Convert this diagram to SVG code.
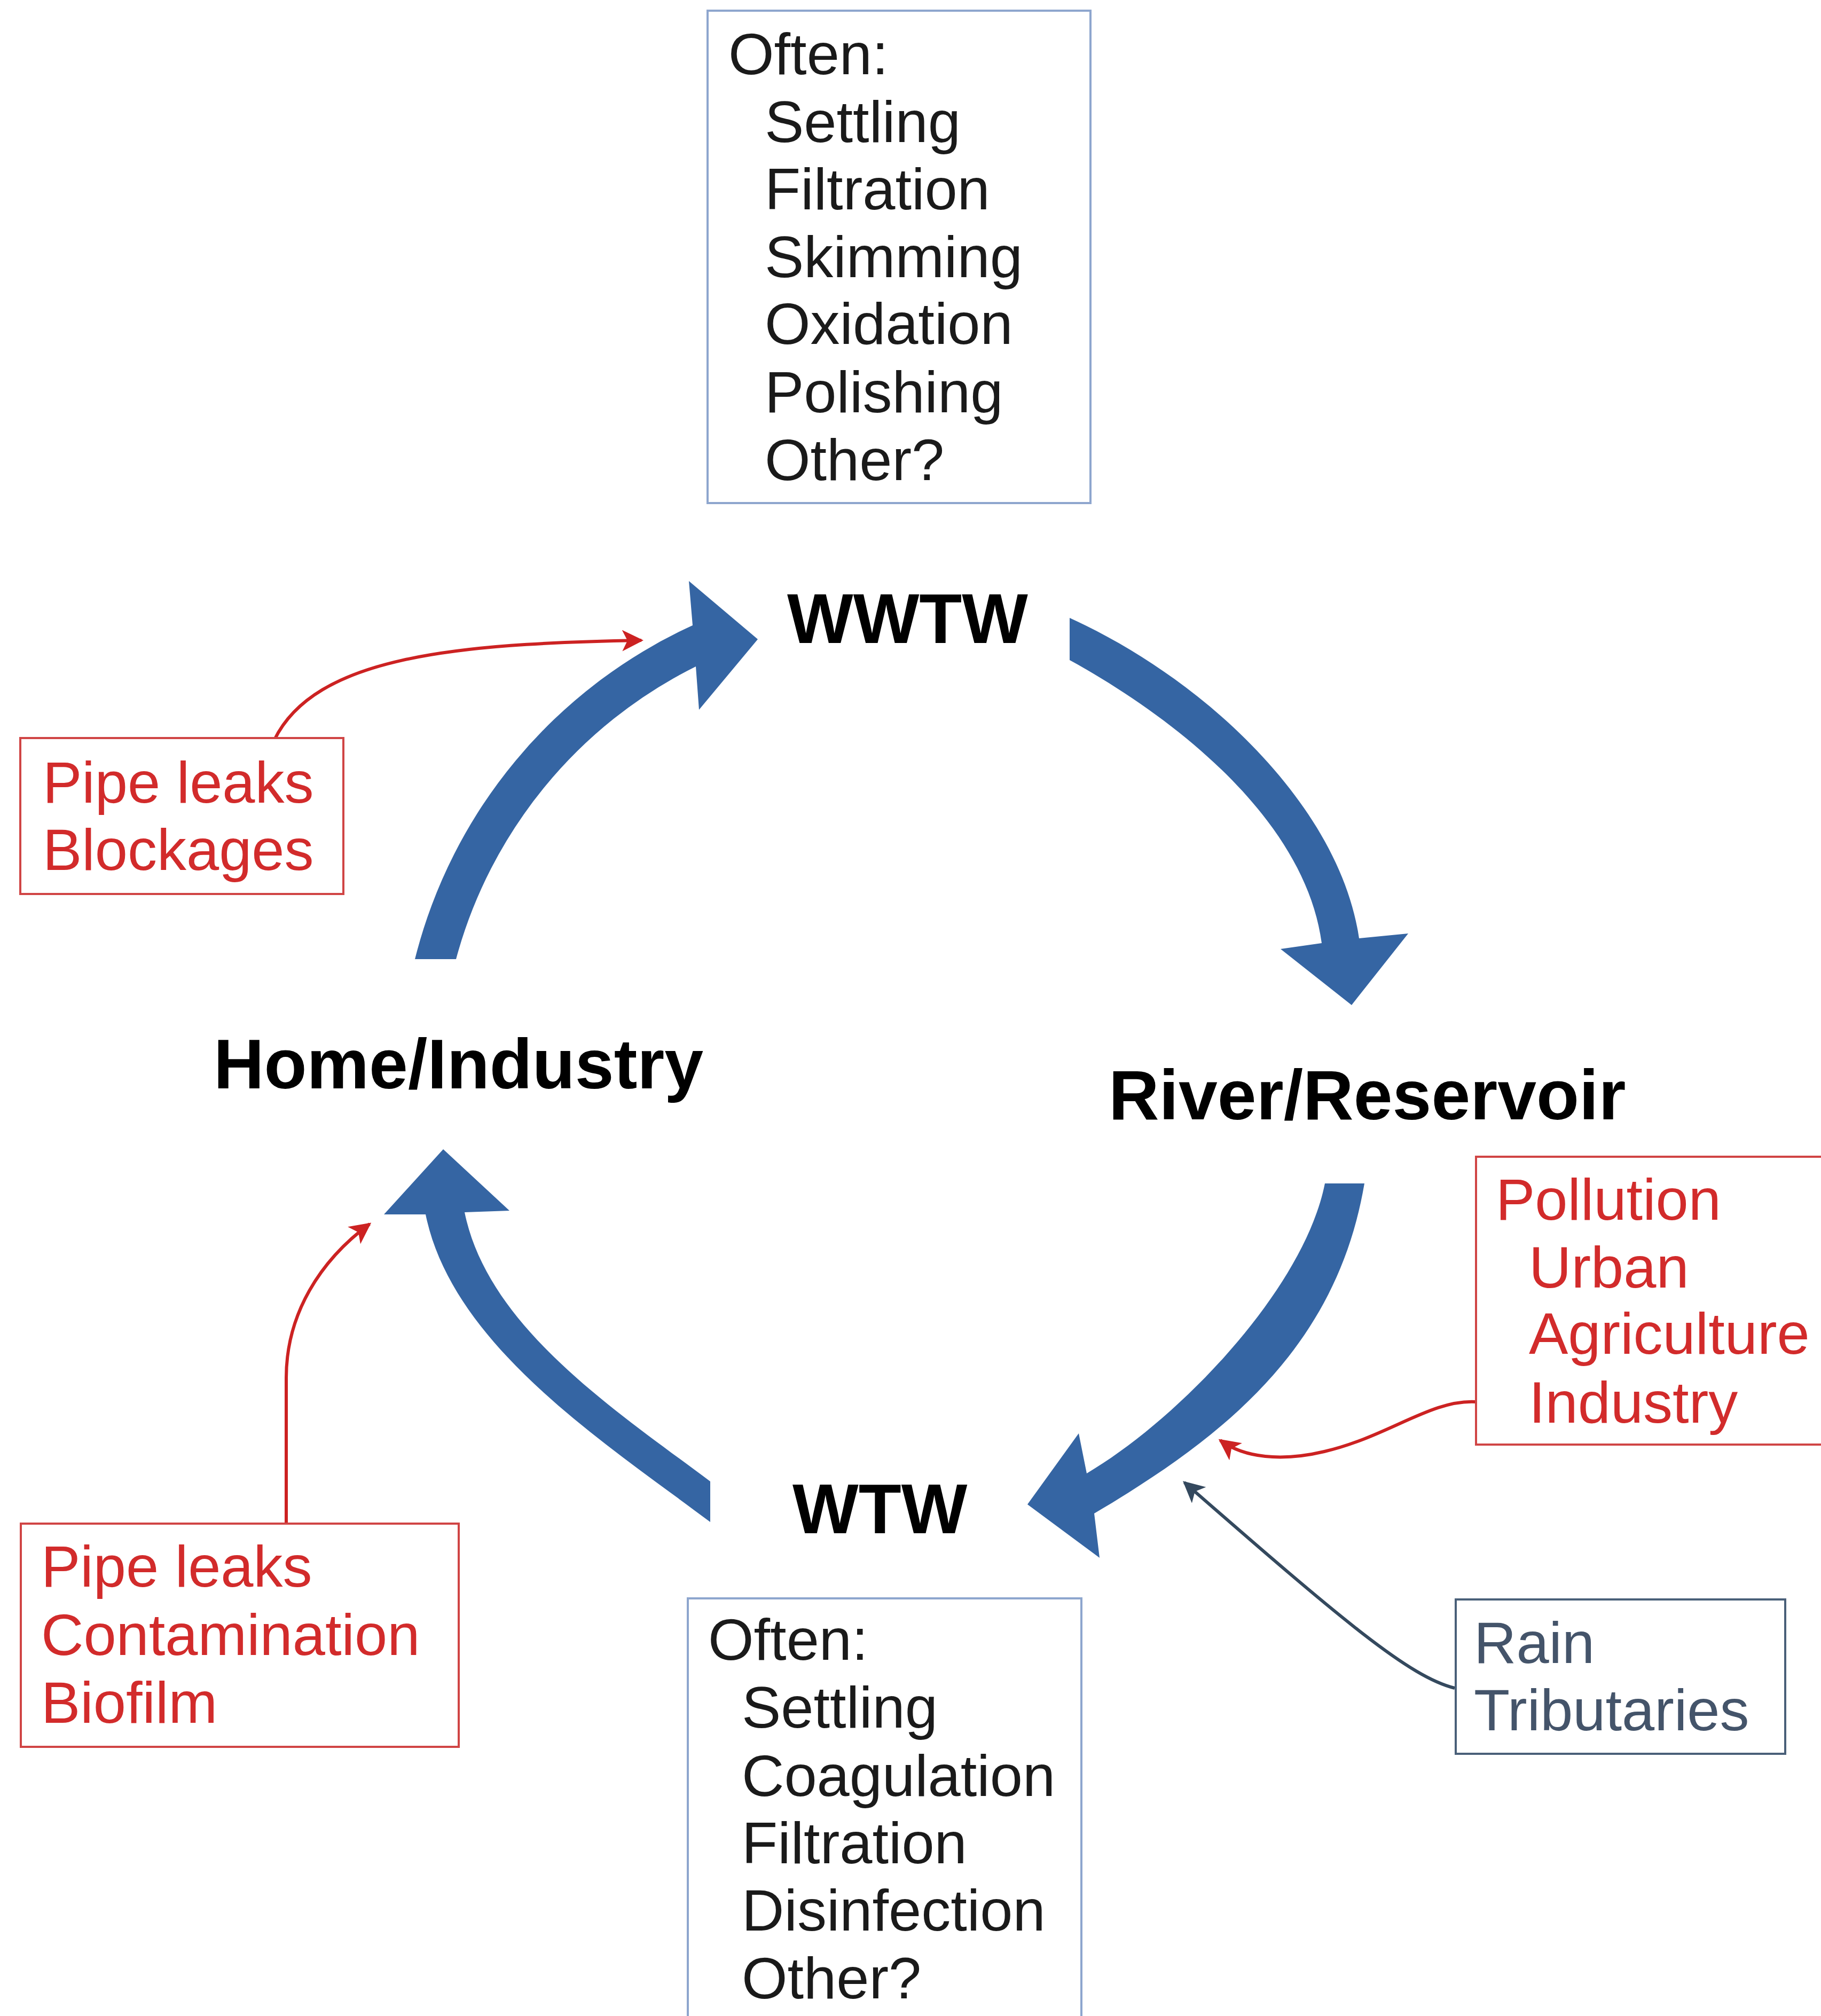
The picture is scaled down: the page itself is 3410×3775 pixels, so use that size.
<svg xmlns="http://www.w3.org/2000/svg" width="3410" height="3775" viewBox="0 0 3410 3775">
<style>
.note{fill:#fff;stroke:#8ea6ce;stroke-width:4}
.redbox{fill:#fff;stroke:#d04545;stroke-width:4}
.slatebox{fill:#fff;stroke:#4a6079;stroke-width:4}
.t{font-family:"Liberation Sans",Arial,sans-serif;font-size:110px}
.blk{fill:#1a1a1a}
.red{fill:#d22b2b}
.slate{fill:#44546a}
.lbl{font-family:"Liberation Sans",Arial,sans-serif;font-size:131px;font-weight:bold;fill:#000}
.big{fill:#3565a3}
.rc{fill:none;stroke:#cc2222;stroke-width:6}
.sc{fill:none;stroke:#34495e;stroke-width:6}
</style>
<defs>
<marker id="mr" viewBox="0 0 10 10" refX="9" refY="5" markerWidth="40" markerHeight="40" markerUnits="userSpaceOnUse" orient="auto">
<path d="M0,0 L10,5 L0,10 L2.5,5 z" fill="#cc2222"/>
</marker>
<marker id="ms" viewBox="0 0 10 10" refX="9" refY="5" markerWidth="40" markerHeight="40" markerUnits="userSpaceOnUse" orient="auto">
<path d="M0,0 L10,5 L0,10 L2.5,5 z" fill="#34495e"/>
</marker>
</defs>
<rect width="3410" height="3775" fill="#fff"/>

<g id="connectors">
<path class="big" d="M777,1796 A937,937 0 0 1 1297,1171 L1290,1088 L1419,1197 L1309,1329 L1303,1248 A863,863 0 0 0 854,1796 Z"/>
<path class="big" d="M2003,1157 C2253,1270 2508,1507 2545,1757 L2637,1748 L2531,1882 L2398,1777 L2475,1766 C2445,1540 2210,1350 2003,1236 Z"/>
<path class="big" d="M2555,2216 C2504,2516 2304,2684 2049,2834 L2059,2917 L1924,2817 L2020,2684 L2035,2759 C2205,2659 2441,2416 2481,2216 Z"/>
<path class="big" d="M1330,2850 C1130,2700 847,2519 797,2274 L719,2274 L830,2152 L954,2267 L870,2270 C914,2486 1154,2642 1330,2774 Z"/>
<path class="rc" marker-end="url(#mr)" d="M514,1385 C590,1230 850,1205 1201,1199"/>
<path class="rc" marker-end="url(#mr)" d="M536,2852 L536,2580 C536,2460 600,2360 692,2292"/>
<path class="rc" marker-end="url(#mr)" d="M2764,2625 C2680,2620 2600,2690 2480,2718 C2400,2737 2330,2730 2285,2697"/>
<path class="sc" marker-end="url(#ms)" d="M2724,3161 C2640,3140 2520,3040 2218,2776"/>
</g>

<g id="wwtw-notes">
<rect class="note" x="1325" y="20" width="717" height="922"/>
<text class="t blk" x="1364" y="139">Often:</text>
<text class="t blk" x="1432" y="266">Settling</text>
<text class="t blk" x="1432" y="392">Filtration</text>
<text class="t blk" x="1432" y="519">Skimming</text>
<text class="t blk" x="1432" y="644">Oxidation</text>
<text class="t blk" x="1432" y="772">Polishing</text>
<text class="t blk" x="1432" y="899">Other?</text>
</g>

<g id="wwtw"><text class="lbl" x="1474" y="1204">WWTW</text></g>
<g id="home"><text class="lbl" x="400" y="2038">Home/Industry</text></g>
<g id="river"><text class="lbl" x="2076" y="2096">River/Reservoir</text></g>
<g id="wtw"><text class="lbl" x="1484" y="2871">WTW</text></g>

<g id="pipe-leaks-blockages">
<rect class="redbox" x="38" y="1382" width="605" height="292"/>
<text class="t red" x="80" y="1503">Pipe leaks</text>
<text class="t red" x="80" y="1629">Blockages</text>
</g>

<g id="pipe-leaks-contamination">
<rect class="redbox" x="39" y="2853" width="820" height="418"/>
<text class="t red" x="77" y="2971">Pipe leaks</text>
<text class="t red" x="77" y="3099">Contamination</text>
<text class="t red" x="77" y="3226">Biofilm</text>
</g>

<g id="pollution">
<rect class="redbox" x="2764" y="2166" width="700" height="539"/>
<text class="t red" x="2801" y="2284">Pollution</text>
<text class="t red" x="2863" y="2411">Urban</text>
<text class="t red" x="2863" y="2535">Agriculture</text>
<text class="t red" x="2863" y="2664">Industry</text>
</g>

<g id="rain">
<rect class="slatebox" x="2726" y="2995" width="617" height="289"/>
<text class="t slate" x="2760" y="3114">Rain</text>
<text class="t slate" x="2760" y="3240">Tributaries</text>
</g>

<g id="wtw-notes">
<rect class="note" x="1288" y="2993" width="737" height="820"/>
<text class="t blk" x="1326" y="3108">Often:</text>
<text class="t blk" x="1389" y="3235">Settling</text>
<text class="t blk" x="1389" y="3363">Coagulation</text>
<text class="t blk" x="1389" y="3489">Filtration</text>
<text class="t blk" x="1389" y="3615">Disinfection</text>
<text class="t blk" x="1389" y="3742">Other?</text>
</g>
</svg>
